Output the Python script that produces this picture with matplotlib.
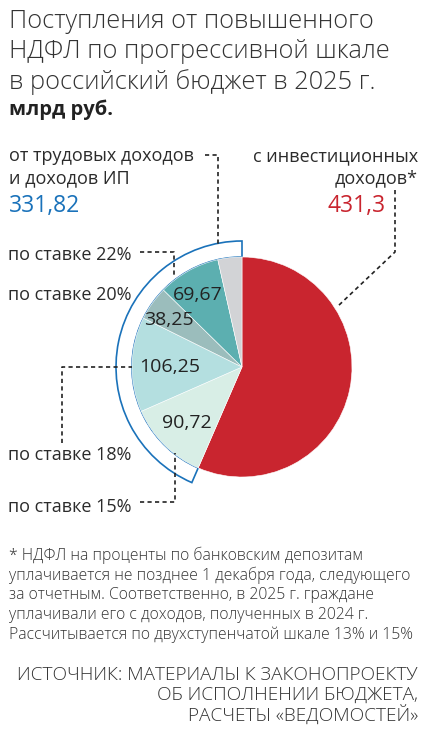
import matplotlib
matplotlib.use("Agg")
import matplotlib.pyplot as plt
from matplotlib.patches import Wedge

# данные, млрд руб.
invest = 431.3
labour_labels = ['по ставке 15%', 'по ставке 18%', 'по ставке 20%', 'по ставке 22%', '']
labour_values = [90.72, 106.25, 38.25, 69.67, 26.93]
labour_total = 331.82

values = [invest] + labour_values
colors = ['#c9252f', '#d8eee6', '#b4dfe0', '#9bbdbc', '#5cafb0', '#d2d3d6']
blue = '#1a72ba'
red = '#c9252f'
dark = '#2b2b2b'

W, H = 427, 733
fig = plt.figure(figsize=(W / 100, H / 100), dpi=100)
ax = fig.add_axes([0, 0, 1, 1])


def Y(y):
    return H - y


cx, cy, r = 242, Y(367), 110
fam = ['Open Sans', 'DejaVu Sans']

wedges, _ = ax.pie(values, colors=colors, startangle=90, counterclock=False,
                   center=(cx, cy), radius=r, frame=True,
                   wedgeprops=dict(linewidth=0.4, edgecolor='white'))
for w in wedges:
    w.set_zorder(3)

# голубая рамка вокруг доли трудовых доходов
span = 360 * sum(labour_values) / sum(values)
ring = Wedge((cx, cy), 126, 90, 90 + span, width=16, facecolor='white',
             edgecolor=blue, linewidth=1.2, zorder=2)
ax.add_patch(ring)
ax.set_xlim(0, W)
ax.set_ylim(0, H)
ax.set_aspect('equal')
ax.axis('off')

# заголовок
title = ['Поступления от повышенного', 'НДФЛ по прогрессивной шкале',
         'в российский бюджет в 2025 г.']
for i, line in enumerate(title):
    ax.text(9, Y(22 + 30 * i), line, fontsize=18.3, family=fam, weight='light',
            color='#333333', va='center', ha='left')
ax.text(9, Y(110), 'млрд руб.', fontsize=14.5, family=fam, weight='bold',
        color='#222222', va='center')

# подписи групп
fs = 13
ax.text(9, Y(156), 'от трудовых доходов', fontsize=fs, family=fam, color=dark, va='center')
ax.text(9, Y(178), 'и доходов ИП', fontsize=fs, family=fam, color=dark, va='center')
ax.text(9, Y(206), f'{labour_total:.2f}'.replace('.', ','), fontsize=16.5, family=fam,
        color=blue, va='center')
ax.text(418, Y(156), 'с инвестиционных', fontsize=fs, family=fam, color=dark,
        va='center', ha='right')
ax.text(418, Y(178), 'доходов*', fontsize=fs, family=fam, color=dark,
        va='center', ha='right')
ax.text(386, Y(206), f'{invest}'.replace('.', ','), fontsize=16.5, family=fam,
        color=red, va='center', ha='right')

dash = dict(color='#222222', linewidth=1.2, linestyle=(0, (2.5, 2)), zorder=5)
ax.plot([205, 218, 218], [Y(155), Y(155), Y(247)], **dash)
ax.plot([395, 395, 337], [Y(190), Y(252), Y(307)], **dash)
ax.plot([140, 174, 174], [Y(252), Y(252), Y(278)], **dash)
ax.plot([62, 62, 132], [Y(443), Y(367), Y(367)], **dash)
ax.plot([140, 175, 175], [Y(502), Y(502), Y(453)], **dash)

# подписи ставок
rate_pos = {'по ставке 22%': 255, 'по ставке 20%': 295,
            'по ставке 18%': 455, 'по ставке 15%': 507}
for lab in labour_labels:
    if lab:
        ax.text(8, Y(rate_pos[lab]), lab, fontsize=fs, family=fam, color=dark, va='center')

# значения в секторах
val_pos = [(187, 423), (170, 367), (169, 320), (198, 295)]
for v, (x, y) in zip(labour_values[:4], val_pos):
    ax.text(x, Y(y), f'{v:.2f}'.replace('.', ','), fontsize=14, family=fam,
            color='#222222', ha='center', va='center', zorder=6)

# примечание
note = ['* НДФЛ на проценты по банковским депозитам',
        'уплачивается не позднее 1 декабря года, следующего',
        'за отчетным. Соответственно, в 2025 г. граждане',
        'уплачивали его с доходов, полученных в 2024 г.',
        'Рассчитывается по двухступенчатой шкале 13% и 15%']
for i, line in enumerate(note):
    ax.text(9, Y(555 + 20 * i), line, fontsize=11.3, family=fam, weight='light',
            color='#333333', va='center')

source = ['ИСТОЧНИК: МАТЕРИАЛЫ К ЗАКОНОПРОЕКТУ', 'ОБ ИСПОЛНЕНИИ БЮДЖЕТА,',
          'РАСЧЕТЫ «ВЕДОМОСТЕЙ»']
for i, line in enumerate(source):
    ax.text(418, Y(675 + 20 * i), line, fontsize=13.7, family=fam, weight='light',
            color='#333333', va='center', ha='right')

fig.savefig('out.png', dpi=100, facecolor='white')
